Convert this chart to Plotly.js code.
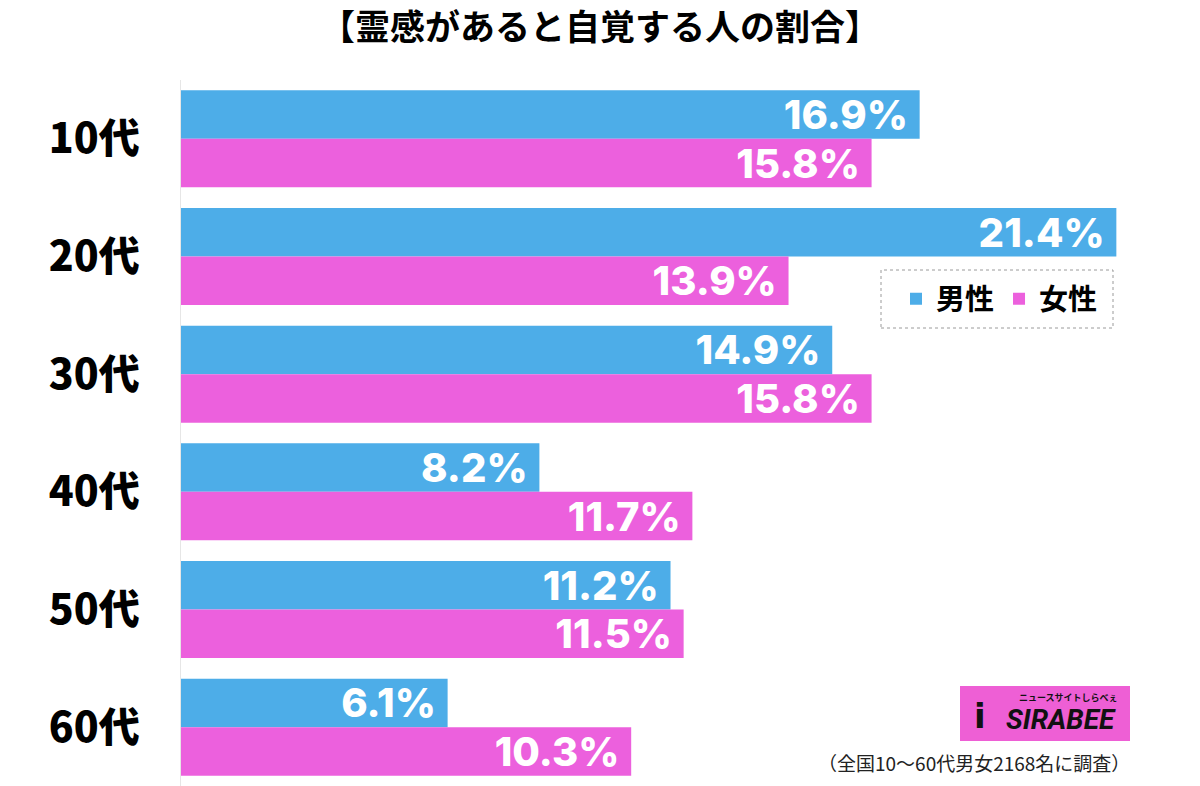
<!DOCTYPE html>
<html>
<head>
<meta charset="utf-8">
<script src="https://cdn.plot.ly/plotly-3.0.1.min.js"></script>
<style>
html,body{margin:0;padding:0;background:#fff;}
#chart{width:1200px;height:786px;}
</style>
</head>
<body>
<div id="chart"></div>
<script>
const categories = ["10代", "20代", "30代", "40代", "50代", "60代"];
const seriesNames = ["男性", "女性"];
const maleValues = [16.9, 21.4, 14.9, 8.2, 11.2, 6.1];
const femaleValues = [15.8, 13.9, 15.8, 11.7, 11.5, 10.3];
const chartTitle = "【霊感があると自覚する人の割合】";
const footnote = "（全国10～60代男女2168名に調査）";
const logoText = "SIRABEE";
const logoSub = "ニュースサイトしらべぇ";

const colors = ["#4DADE8", "#EC60DD"];
const jp = '"Noto Sans CJK JP", "Noto Sans", sans-serif';
const num = 'Inter, "Noto Sans CJK JP", sans-serif';

function barTrace(name, values, color) {
  return {
    type: "bar",
    orientation: "h",
    name: name,
    x: values,
    y: categories,
    marker: {color: color, line: {width: 0}},
    text: values.map(v => v.toFixed(1) + "% "),
    textposition: "inside",
    insidetextanchor: "end",
    constraintext: "none",
    textfont: {family: num, size: 40, color: "#ffffff", weight: 800},
    hoverinfo: "skip"
  };
}

const data = [
  barTrace(seriesNames[0], maleValues, colors[0]),
  barTrace(seriesNames[1], femaleValues, colors[1])
];

const layout = {
  width: 1200,
  height: 786,
  paper_bgcolor: "#ffffff",
  plot_bgcolor: "#ffffff",
  margin: {l: 181, r: 50, t: 80, b: 0},
  barmode: "group",
  bargap: 0.175,
  bargroupgap: 0,
  title: {
    text: "<b>" + chartTitle + "</b>",
    x: 0.5, xref: "container", xanchor: "center",
    y: 1 - 28 / 786, yref: "container", yanchor: "middle",
    font: {family: jp, size: 35, color: "#000", weight: 900}
  },
  xaxis: {
    range: [0, 22.17],
    visible: false,
    fixedrange: true
  },
  yaxis: {
    type: "category",
    autorange: "reversed",
    showline: true,
    linecolor: "#e6e6e6",
    linewidth: 1,
    showgrid: false,
    zeroline: false,
    ticks: "",
    ticklabelstandoff: 32,
    tickfont: {family: jp, size: 41, color: "#000", weight: 900},
    fixedrange: true
  },
  showlegend: true,
  legend: {
    orientation: "h",
    x: (896 - 181) / 969, xanchor: "left",
    y: (786 - 299) / 706, yanchor: "middle",
    font: {family: jp, size: 29, color: "#000", weight: 700},
    bgcolor: "rgba(0,0,0,0)",
    borderwidth: 0,
    traceorder: "normal",
    itemclick: false,
    itemdoubleclick: false
  },
  shapes: [
    {type: "rect", xref: "paper", yref: "paper",
     x0: (881 - 181) / 969, x1: (1113 - 181) / 969,
     y0: (786 - 328) / 706, y1: (786 - 270) / 706,
     line: {color: "#9a9a9a", width: 1, dash: "dot"}, fillcolor: "rgba(0,0,0,0)"},
    {type: "rect", xref: "paper", yref: "paper",
     x0: (960 - 181) / 969, x1: (1130 - 181) / 969,
     y0: (786 - 741) / 706, y1: (786 - 686) / 706,
     line: {width: 0}, fillcolor: "#EE5FD5"}
  ],
  annotations: [
    {xref: "paper", yref: "paper", x: (1118 - 181) / 969, y: (786 - 719) / 706,
     xanchor: "right", yanchor: "middle", showarrow: false,
     text: "<b><i>" + logoText + "</i></b>",
     font: {family: "Roboto, sans-serif", size: 28, color: "#111", weight: 900}},
    {xref: "paper", yref: "paper", x: (1120 - 181) / 969, y: (786 - 697) / 706,
     xanchor: "right", yanchor: "middle", showarrow: false,
     text: "<b>" + logoSub + "</b>",
     font: {family: jp, size: 9, color: "#111"}},
    {xref: "paper", yref: "paper", x: (980 - 181) / 969, y: (786 - 716) / 706,
     xanchor: "center", yanchor: "middle", showarrow: false,
     text: "<b>i</b>",
     font: {family: "DejaVu Sans, sans-serif", size: 34, color: "#111"}},
    {xref: "paper", yref: "paper", x: (1132 - 181) / 969, y: (786 - 762) / 706,
     xanchor: "right", yanchor: "middle", showarrow: false,
     text: footnote,
     font: {family: jp, size: 19, color: "#222"}}
  ]
};

Plotly.newPlot("chart", data, layout, {displayModeBar: false, staticPlot: true});
</script>
</body>
</html>
